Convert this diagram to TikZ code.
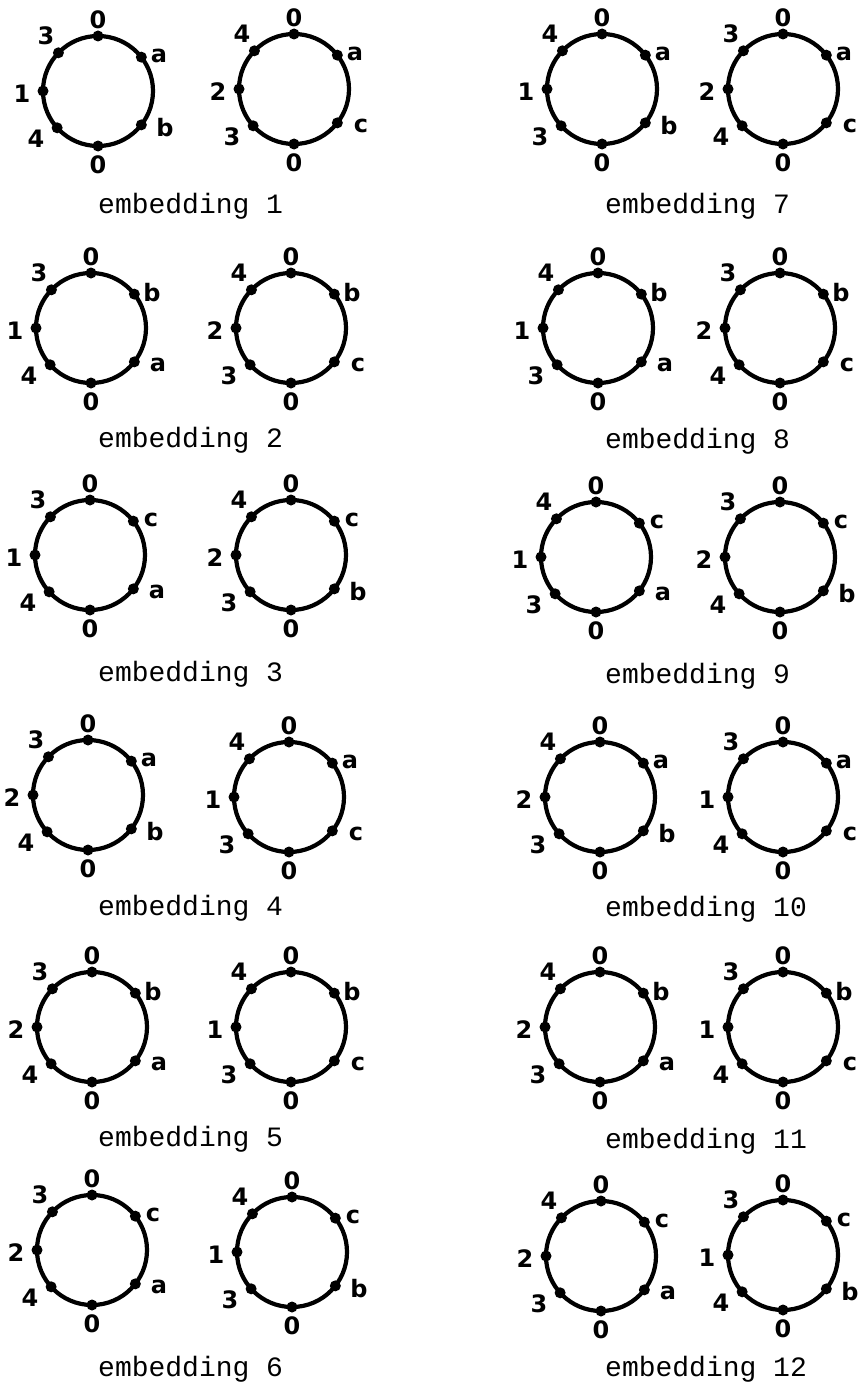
\documentclass[tikz,border=0pt]{standalone}
\usepackage{fontspec}
\newfontfamily\capfont{Liberation Mono}
\newfontfamily\handfont{DejaVu Sans}
\tikzset{
 ring/.style={circle, draw, line width=4.2pt, minimum size=110pt, inner sep=0pt},
 vdot/.style={circle, fill, minimum size=11pt, inner sep=0pt},
 lab/.style={font=\handfont\bfseries\fontsize{24}{24}\selectfont, inner sep=0pt},
 captext/.style={font=\capfont\fontsize{28}{28}\selectfont, anchor=base west, inner sep=0pt},
}
\newcommand\embring[8]{%
 \node[ring] (#1) at (#2,-#3) {};
 \foreach \a [count=\i] in {90,38,-38,-90,-138,180,136}
   {\path (#1.center) ++(\a:55) node[vdot] (#1-d\i) {};}
 \path (#1.center) ++(0,71) node[lab] (#1-l1) {0};
 \path (#1.center) ++(61,35) node[lab] (#1-l2) {#4};
 \path (#1.center) ++(67,-37) node[lab] (#1-l3) {#5};
 \path (#1.center) ++(0,-74) node[lab] (#1-l4) {0};
 \path (#1.center) ++(-62,-48) node[lab] (#1-l5) {#6};
 \path (#1.center) ++(-76,-3) node[lab] (#1-l6) {#7};
 \path (#1.center) ++(-52,55) node[lab] (#1-l7) {#8};
}
\begin{document}
\begin{tikzpicture}[x=1pt,y=1pt]
\fill[white] (0,0) rectangle (864,-1386);
\useasboundingbox (0,0) rectangle (864,-1386);
% left column
\embring{e1a}{98}{91}{a}{b}{4}{1}{3}
\embring{e1b}{294}{89}{a}{c}{3}{2}{4}
\node[captext] (cap1) at (98,-213) {embedding 1};
\embring{e2a}{91}{328}{b}{a}{4}{1}{3}
\embring{e2b}{291}{328}{b}{c}{3}{2}{4}
\node[captext] (cap2) at (98,-447) {embedding 2};
\embring{e3a}{90}{555}{c}{a}{4}{1}{3}
\embring{e3b}{291}{555}{c}{b}{3}{2}{4}
\node[captext] (cap3) at (98,-681) {embedding 3};
\embring{e4a}{88}{795}{a}{b}{4}{2}{3}
\embring{e4b}{289}{797}{a}{c}{3}{1}{4}
\node[captext] (cap4) at (98,-915) {embedding 4};
\embring{e5a}{92}{1027}{b}{a}{4}{2}{3}
\embring{e5b}{291}{1027}{b}{c}{3}{1}{4}
\node[captext] (cap5) at (98,-1146) {embedding 5};
\embring{e6a}{92}{1250}{c}{a}{4}{2}{3}
\embring{e6b}{292}{1252}{c}{b}{3}{1}{4}
\node[captext] (cap6) at (98,-1376) {embedding 6};
% right column
\embring{e7a}{602}{89}{a}{b}{3}{1}{4}
\embring{e7b}{783}{89}{a}{c}{4}{2}{3}
\node[captext] (cap7) at (605,-213) {embedding 7};
\embring{e8a}{598}{328}{b}{a}{3}{1}{4}
\embring{e8b}{780}{328}{b}{c}{4}{2}{3}
\node[captext] (cap8) at (605,-448) {embedding 8};
\embring{e9a}{596}{557}{c}{a}{3}{1}{4}
\embring{e9b}{780}{557}{c}{b}{4}{2}{3}
\node[captext] (cap9) at (605,-683) {embedding 9};
\embring{e10a}{600}{797}{a}{b}{3}{2}{4}
\embring{e10b}{783}{797}{a}{c}{4}{1}{3}
\node[captext] (cap10) at (605,-916) {embedding 10};
\embring{e11a}{600}{1027}{b}{a}{3}{2}{4}
\embring{e11b}{783}{1027}{b}{c}{4}{1}{3}
\node[captext] (cap11) at (605,-1148) {embedding 11};
\embring{e12a}{601}{1256}{c}{a}{3}{2}{4}
\embring{e12b}{783}{1255}{c}{b}{4}{1}{3}
\node[captext] (cap12) at (605,-1376) {embedding 12};
\end{tikzpicture}
\end{document}
